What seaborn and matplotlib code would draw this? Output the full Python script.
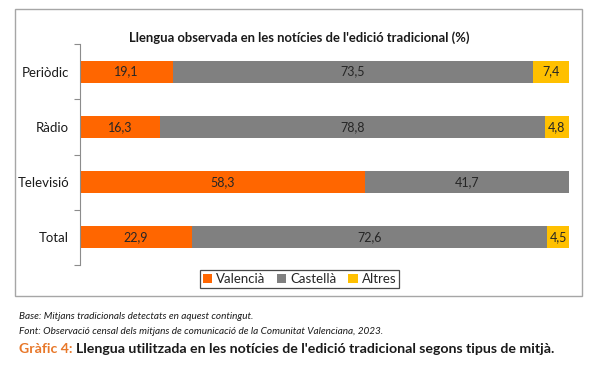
import numpy as np
import pandas as pd
import matplotlib.pyplot as plt
import seaborn as sns
from matplotlib.patches import Rectangle, Patch

# Data
mitjans = ['Periòdic', 'Ràdio', 'Televisió', 'Total']
valencia = [19.1, 16.3, 58.3, 22.9]
castella = [73.5, 78.8, 41.7, 72.6]
altres = [7.4, 4.8, 0.0, 4.5]

series_names = ['Valencià', 'Castellà', 'Altres']
colors = ['#FF6600', '#808080', '#FFC000']

sns.set_theme(style='white')
plt.rcParams['font.family'] = ['Lato', 'DejaVu Sans']

df = pd.DataFrame({'Mitjà': mitjans, 'Valencià': valencia,
                   'Castellà': castella, 'Altres': altres})
df['c1'] = df['Valencià']
df['c2'] = df['c1'] + df['Castellà']
df['c3'] = df['c2'] + df['Altres']

fig = plt.figure(figsize=(6.06, 3.72), dpi=100)
ax = fig.add_axes([0.132, 0.2876, 0.807, 0.5941])

# Stacked bars: draw cumulative totals from longest to shortest
for col, color in zip(['c3', 'c2', 'c1'], colors[::-1]):
    sns.barplot(data=df, x=col, y='Mitjà', order=mitjans, color=color,
                width=0.4, orient='h', ax=ax, saturation=1, linewidth=0)

# Value labels in the middle of each segment
for i, row in df.iterrows():
    left = 0
    for name in series_names:
        v = row[name]
        if v > 0:
            ax.text(left + v / 2, i, f'{v:.1f}'.replace('.', ','),
                    ha='center', va='center', fontsize=9, color='#262626')
        left += v

ax.set_xlim(0, 100)
ax.set_ylim(3.5, -0.5)
ax.set_xlabel('')
ax.set_ylabel('')
ax.set_xticks([])
ax.set_yticks(range(len(mitjans)))
ax.set_yticklabels(mitjans, fontsize=9.5, color='#1a1a1a')
ax.set_yticks(np.arange(-0.5, len(mitjans), 1), minor=True)
ax.tick_params(axis='y', which='major', length=0, pad=8)
ax.tick_params(axis='y', which='minor', length=4, color='#8c8c8c', width=0.8, left=True)
for s in ['top', 'right', 'bottom']:
    ax.spines[s].set_visible(False)
ax.spines['left'].set_color('#8c8c8c')
ax.spines['left'].set_linewidth(0.8)

fig.text(0.494, 0.900, "Llengua observada en les notícies de l'edició tradicional (%)",
         ha='center', va='center', fontsize=9.4, fontweight='bold', color='#1a1a1a')

handles = [Patch(facecolor=c, edgecolor='none') for c in colors]
leg = fig.legend(handles, series_names, loc='center', bbox_to_anchor=(0.494, 0.250),
                 ncol=3, frameon=True, fancybox=False, fontsize=9.5,
                 handlelength=0.7, handleheight=0.7, handletextpad=0.3,
                 columnspacing=0.9, borderpad=0.2)
leg.get_frame().set_edgecolor('#1a1a1a')
leg.get_frame().set_linewidth(0.9)

# Outer frame around the chart
fig.patches.append(Rectangle((0.0248, 0.2043), 0.935, 0.7715, transform=fig.transFigure,
                             fill=False, edgecolor='#a6a6a6', linewidth=1))

fig.text(0.031, 0.149, 'Base: Mitjans tradicionals detectats en aquest contingut.',
         ha='left', va='center', fontsize=7.2, style='italic', color='#1a1a1a')
fig.text(0.031, 0.110, 'Font: Observació censal dels mitjans de comunicació de la Comunitat Valenciana, 2023.',
         ha='left', va='center', fontsize=7.2, style='italic', color='#1a1a1a')
t1 = fig.text(0.031, 0.062, 'Gràfic 4:', ha='left', va='center', fontsize=10.2,
              fontweight='bold', color='#E8782A')
ax.annotate("Llengua utilitzada en les notícies de l'edició tradicional segons tipus de mitjà.",
            xy=(1, 0.5), xycoords=t1, xytext=(3, 0), textcoords='offset points',
            ha='left', va='center', fontsize=10.2, fontweight='bold', color='#1a1a1a',
            annotation_clip=False)

fig.savefig('out.png', dpi=100)
